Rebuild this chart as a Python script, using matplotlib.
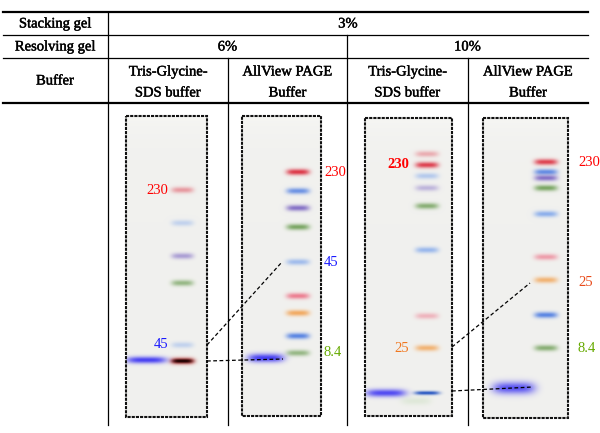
import numpy as np
import matplotlib
matplotlib.use('Agg')
import matplotlib.pyplot as plt
from matplotlib.patches import Rectangle
import matplotlib.patheffects as pe

plt.rcParams['font.family'] = ['Liberation Serif', 'DejaVu Serif']

# ---------------- table text ----------------
row_labels = ['Stacking gel', 'Resolving gel', 'Buffer']
stacking_gel = '3%'
resolving_gels = ['6%', '10%']
buffers = [('Tris-Glycine-', 'SDS buffer'), ('AllView PAGE', 'Buffer'),
           ('Tris-Glycine-', 'SDS buffer'), ('AllView PAGE', 'Buffer')]

# ---------------- gel data (migration distance from top of gel, px) ----------------
gel1_marker_mig = [74, 107, 140, 167, 229, 245]
gel1_marker_col = ['red', 'lblue', 'purple', 'green', 'lblue', 'black']
gel1_marker_int = [0.45, 0.35, 0.55, 0.65, 0.35, 1.0]
gel1_sample_mig = [244]

gel2_marker_mig = [56, 75, 92, 111, 146, 180, 197, 220, 237]
gel2_marker_col = ['red', 'blue', 'purple', 'green', 'lblue', 'pink', 'orange', 'blue', 'green']
gel2_marker_int = [0.95, 0.75, 0.85, 0.85, 0.6, 0.75, 0.8, 0.85, 0.65]
gel2_sample_mig = [242]

gel3_marker_mig = [36, 47, 58, 70, 88, 132, 198, 230, 275]
gel3_marker_col = ['red', 'red', 'lblue', 'purple', 'green', 'lblue', 'pink', 'orange', 'dblue']
gel3_marker_int = [0.35, 0.9, 0.45, 0.4, 0.75, 0.65, 0.4, 0.7, 0.95]
gel3_sample_mig = [275]

gel4_marker_mig = [44, 54, 60, 70, 96, 139, 162, 197, 230]
gel4_marker_col = ['red', 'blue', 'purple', 'green', 'lblue', 'pink', 'orange', 'blue', 'green']
gel4_marker_int = [0.9, 0.8, 0.85, 0.85, 0.75, 0.55, 0.7, 0.85, 0.75]
gel4_sample_mig = [270]

# size-label annotations per gel: (text, migration of the band it names)
gel1_labels = [('230', 74), ('45', 229)]
gel2_labels = [('230', 56), ('45', 146), ('8.4', 237)]
gel3_labels = [('230', 47), ('25', 230)]
gel4_labels = [('230', 44), ('25', 164), ('8.4', 230)]

band_rgb = {
    'red': (0.86, 0.18, 0.25), 'lblue': (0.42, 0.60, 0.92), 'blue': (0.25, 0.45, 0.88),
    'purple': (0.45, 0.36, 0.75), 'green': (0.40, 0.60, 0.30), 'pink': (0.92, 0.35, 0.45),
    'orange': (0.95, 0.60, 0.25), 'dblue': (0.10, 0.30, 0.75), 'black': (0.10, 0.0, 0.0),
    'sample': (0.25, 0.22, 0.95),
}
label_rgb = {'230': '#ff0000', '45': '#1a1aff', '8.4': '#66aa00', '25': '#f07820'}

BG = np.array([0.945, 0.945, 0.935])


def render_gel(w, h, bands, scale=3):
    H, W = int(h * scale), int(w * scale)
    yy, xx = np.mgrid[0:H, 0:W].astype(float)
    yy = (yy + 0.5) / scale
    xx = (xx + 0.5) / scale
    img = np.ones((H, W, 3)) * BG
    img = img + (0.02 * np.exp(-yy / 20.0))[..., None]
    for cx, cy, bw, sig, col, a in bands:
        fx = np.exp(-(np.abs(xx - cx) / (bw / 2.0)) ** 4)
        fy = np.exp(-((yy - cy) / sig) ** 2)
        al = np.clip(a * fx * fy, 0, 1)[..., None]
        img = img * (1 - al) + np.array(col) * al
    return np.clip(img, 0, 1)


fig = plt.figure(figsize=(6.0, 4.33), dpi=100)
ax = fig.add_axes([0, 0, 1, 1])
ax.set_xlim(0, 600)
ax.set_ylim(433, 0)
ax.axis('off')

# ---------------- table lines ----------------
x_left, x_right = 3, 588
x_c0, x_c1, x_c2, x_c3 = 108, 228, 347, 468
y_top, y_r1, y_r2, y_hdr, y_bot = 12, 35, 58, 103, 425
ax.plot([x_left, x_right], [y_top, y_top], color='black', lw=1.6)
ax.plot([x_left, x_right], [y_r1, y_r1], color='black', lw=0.9)
ax.plot([x_left, x_right], [y_r2, y_r2], color='black', lw=0.9)
ax.plot([x_left, x_right], [y_hdr, y_hdr], color='black', lw=1.6)
ax.plot([x_c0, x_c0], [y_top, y_bot], color='black', lw=0.9)
ax.plot([x_c2, x_c2], [y_r1, y_bot], color='black', lw=0.9)
ax.plot([x_c1, x_c1], [y_r2, y_bot], color='black', lw=0.9)
ax.plot([x_c3, x_c3], [y_r2, y_bot], color='black', lw=0.9)

fs = 10.5
heavy = [pe.withStroke(linewidth=0.3, foreground='black')]
kw = dict(ha='center', va='center', fontsize=fs, path_effects=heavy)
ax.text(55, 24, row_labels[0], **kw)
ax.text(55, 47, row_labels[1], **kw)
ax.text(55, 81, row_labels[2], **kw)
ax.text((x_c0 + x_right) / 2, 24, stacking_gel, **kw)
ax.text((x_c0 + x_c2) / 2, 47, resolving_gels[0], **kw)
ax.text((x_c2 + x_right) / 2, 47, resolving_gels[1], **kw)
col_edges = [x_c0, x_c1, x_c2, x_c3, x_right]
for i, (l1, l2) in enumerate(buffers):
    cx = (col_edges[i] + col_edges[i + 1]) / 2
    ax.text(cx, 72, l1, **kw)
    ax.text(cx, 93, l2, **kw)

# ---------------- gels ----------------
gels = [
    dict(box=(126, 207, 116, 417), mlane=(56.5, 22), slane=(20.5, 40),
         mig=gel1_marker_mig, col=gel1_marker_col, inten=gel1_marker_int,
         smig=gel1_sample_mig, ssig=3.4, sint=0.95, labels=gel1_labels, lab_side='left',
         lab_x=168, bold=False),
    dict(box=(242, 321, 116, 416), mlane=(56, 23), slane=(24, 36),
         mig=gel2_marker_mig, col=gel2_marker_col, inten=gel2_marker_int,
         smig=gel2_sample_mig, ssig=4.2, sint=0.97, labels=gel2_labels, lab_side='right',
         lab_x=324, bold=False),
    dict(box=(365, 452, 118, 416), mlane=(62, 23), slane=(21, 40),
         mig=gel3_marker_mig, col=gel3_marker_col, inten=gel3_marker_int,
         smig=gel3_sample_mig, ssig=3.8, sint=0.9, labels=gel3_labels, lab_side='left',
         lab_x=409, bold=True),
    dict(box=(483, 568, 118, 418), mlane=(63, 23), slane=(31, 42),
         mig=gel4_marker_mig, col=gel4_marker_col, inten=gel4_marker_int,
         smig=gel4_sample_mig, ssig=6.0, sint=0.85, labels=gel4_labels, lab_side='right',
         lab_x=578, bold=False),
]

for gi, g in enumerate(gels):
    x0, x1, y0, y1 = g['box']
    mcx, mw = g['mlane']
    scx, sw = g['slane']
    bands = []
    for m, c, a in zip(g['mig'], g['col'], g['inten']):
        if c == 'black':
            bands.append((mcx, m, mw + 2, 3.2, (0.75, 0.1, 0.1), 0.9))
            bands.append((mcx, m, mw - 2, 2.0, band_rgb['black'], 1.0))
        elif c == 'dblue':
            bands.append((mcx, m, mw + 2, 1.9, band_rgb['dblue'], a))
        else:
            bands.append((mcx, m, mw, 3.0, band_rgb[c], a))
    for m in g['smig']:
        bands.append((scx, m, sw, g['ssig'], band_rgb['sample'], g['sint']))
        if gi == 2:
            bands.append((scx + 30, m + 8, 30, 4.0, (0.75, 0.85, 0.7), 0.35))
    img = render_gel(x1 - x0, y1 - y0, bands)
    ax.imshow(img, extent=[x0, x1, y1, y0], aspect='auto', interpolation='bilinear', zorder=2)
    ax.add_patch(Rectangle((x0, y0), x1 - x0, y1 - y0, fill=False, edgecolor='#111111',
                           lw=1.5, linestyle=(0, (1.5, 0.5)), zorder=3))
    for txt, m in g['labels']:
        color = label_rgb[txt]
        if gi == 3 and txt == '25':
            color = '#e84a1a'
        ax.text(g['lab_x'], y0 + m, txt, ha='right' if g['lab_side'] == 'left' else 'left',
                va='center', fontsize=fs, color=color,
                fontweight='bold' if (g['bold'] and txt == '230') else 'normal', zorder=4)

# ---------------- dashed connectors ----------------
def connect(ga, ma, gb, mb, xb):
    ya = gels[ga]['box'][2] + ma
    yb = gels[gb]['box'][2] + mb
    ax.plot([gels[ga]['box'][1], xb], [ya, yb], color='black', lw=0.9,
            linestyle=(0, (3, 2)), zorder=5)

connect(0, gel1_marker_mig[4], 1, gel2_marker_mig[4], 282)
connect(0, gel1_marker_mig[5], 1, gel2_sample_mig[0] + 1, 283)
connect(2, gel3_marker_mig[7] - 1, 3, gel4_marker_mig[6] + 3, 530)
connect(2, gel3_marker_mig[8] - 2, 3, gel4_sample_mig[0] - 1, 533)

fig.savefig('out.png', dpi=100)
